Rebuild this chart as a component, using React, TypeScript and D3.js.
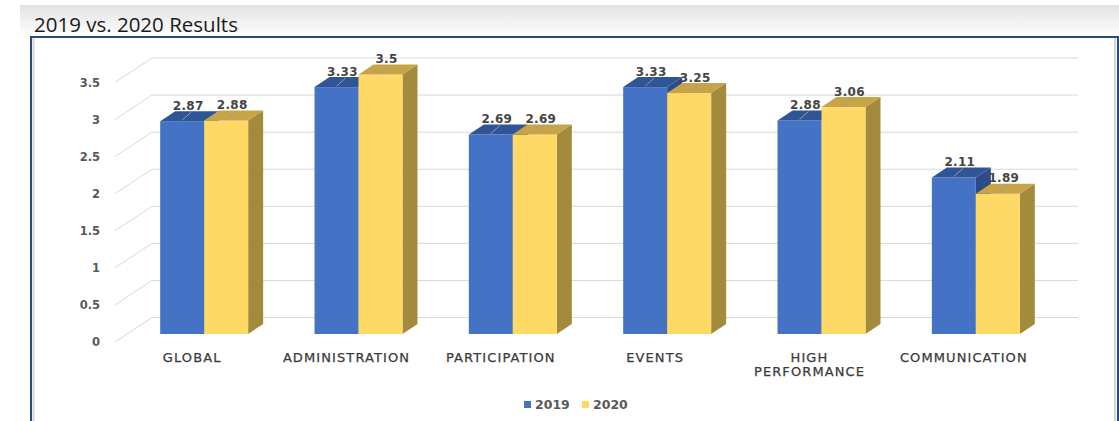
import React from "react";
import * as d3 from "d3";

const categories = ["GLOBAL", "ADMINISTRATION", "PARTICIPATION", "EVENTS", "HIGH PERFORMANCE", "COMMUNICATION"];
const series = ["2019", "2020"];
const values2019 = [2.87, 3.33, 2.69, 3.33, 2.88, 2.11];
const values2020 = [2.88, 3.5, 2.69, 3.25, 3.06, 1.89];
const yTicks = [0, 0.5, 1, 1.5, 2, 2.5, 3, 3.5];
const categoryLines: Record<string, string[]> = {
  "HIGH PERFORMANCE": ["HIGH", "PERFORMANCE"],
};

const W = 1119;
const H = 421;
const floorLeft = 115;
const floorRight = 1041;
const floorY = 342;
const wallDX = 37;
const wallDY = -24.5;
const barDX = 12;
const barDY = -8;
const depthDX = 15;
const depthDY = -10;

const colors = {
  "2019": { front: "#4472C4", top: "#2F5597", side: "#2B4C86" },
  "2020": { front: "#FFD966", top: "#C6A447", side: "#A38A3C" },
};

export default function App() {
  const y = d3.scaleLinear().domain([0, 3.5]).range([floorY, floorY - 259.5]);
  const x = d3
    .scaleBand<string>()
    .domain(categories)
    .range([floorLeft + barDX, floorRight + barDX])
    .paddingInner(0.43)
    .paddingOuter(0.215);
  const xs = d3.scaleBand<string>().domain(series).range([0, x.bandwidth()]);
  const valuesBySeries: Record<string, number[]> = { "2019": values2019, "2020": values2020 };

  const baseFront = y(0) + barDY;

  const bars: React.ReactNode[] = [];
  const labels: React.ReactNode[] = [];
  categories.forEach((c, i) => {
    series.forEach((s) => {
      const v = valuesBySeries[s][i];
      const bx = (x(c) as number) + (xs(s) as number);
      const bw = xs.bandwidth();
      const t = y(v) + barDY;
      const col = (colors as any)[s];
      const top = [
        [bx, t],
        [bx + bw, t],
        [bx + bw + depthDX, t + depthDY],
        [bx + depthDX, t + depthDY],
      ];
      const side = [
        [bx + bw, t],
        [bx + bw + depthDX, t + depthDY],
        [bx + bw + depthDX, baseFront + depthDY],
        [bx + bw, baseFront],
      ];
      const line = d3.line();
      bars.push(
        <g key={c + s}>
          <path d={line(side as any) + "Z"} fill={col.side} />
          <rect x={bx} y={t} width={bw} height={baseFront - t} fill={col.front} />
          <path d={line(top as any) + "Z"} fill={col.top} />
        </g>
      );
      const cx = bx + bw / 2;
      labels.push(
        <g key={"l" + c + s}>
          <line x1={cx} y1={t - 1} x2={cx + 9} y2={t + depthDY + 1} stroke="#9a9a9a" strokeWidth={1} />
          <text
            x={cx + 6}
            y={t + depthDY - 1.5}
            textAnchor="middle"
            fontFamily="DejaVu Sans"
            fontWeight="bold"
            fontSize={12}
            letterSpacing={0.3}
            fill="#454545"
          >
            {String(v)}
          </text>
        </g>
      );
    });
  });

  return (
    <svg
      width={W}
      height={H}
      style={{ position: "absolute", left: 0, top: 0, background: "#fff" }}
    >
      <defs>
        <linearGradient id="topband" x1="0" y1="0" x2="0" y2="1">
          <stop offset="0" stopColor="#e2e2e2" />
          <stop offset="1" stopColor="#ffffff" />
        </linearGradient>
      </defs>
      <rect x={20} y={5} width={W - 20} height={32} fill="url(#topband)" />
      <text x={34} y={32} fontFamily="Open Sans" fontSize={20.5} fill="#1a1a1a">
        2019 vs. 2020 Results
      </text>
      <rect x={31} y={37} width={1087} height={420} fill="#fff" stroke="#2c4a78" strokeWidth={2} />
      <line x1={33.5} y1={38} x2={33.5} y2={H} stroke="#d6d6d6" strokeWidth={2} />
      <line x1={1115} y1={38} x2={1115} y2={H} stroke="#d6d6d6" strokeWidth={2} />

      {yTicks.map((t) => (
        <g key={"g" + t}>
          <line x1={floorLeft} y1={y(t)} x2={floorLeft + wallDX} y2={y(t) + wallDY} stroke="#d9d9d9" strokeWidth={1} />
          <line
            x1={floorLeft + wallDX}
            y1={y(t) + wallDY}
            x2={floorRight + wallDX}
            y2={y(t) + wallDY}
            stroke="#d9d9d9"
            strokeWidth={1}
          />
          <text
            x={100}
            y={y(t) + 4}
            textAnchor="end"
            fontFamily="DejaVu Sans"
            fontWeight="bold"
            fontSize={11.5}
            fill="#595959"
          >
            {String(t)}
          </text>
        </g>
      ))}

      {bars}
      {labels}

      {categories.map((c) => {
        const cxc = (x(c) as number) + x.bandwidth() / 2 - barDX;
        const lines = categoryLines[c] || [c];
        return (
          <text
            key={"c" + c}
            x={cxc}
            y={361.5}
            textAnchor="middle"
            fontFamily="DejaVu Sans"
            fontSize={13}
            letterSpacing={1.1}
            fill="#3a3a3a"
            stroke="#3a3a3a"
            strokeWidth={0.25}
          >
            {lines.map((ln, j) => (
              <tspan key={j} x={cxc} dy={j === 0 ? 0 : 14}>
                {ln}
              </tspan>
            ))}
          </text>
        );
      })}

      {series.map((s, i) => (
        <g key={"leg" + s} transform={`translate(${524 + i * 58},0)`}>
          <rect x={0} y={401} width={7} height={7} fill={(colors as any)[s].front} />
          <text x={11} y={409} fontFamily="DejaVu Sans" fontWeight="bold" fontSize={12.5} fill="#595959">
            {s}
          </text>
        </g>
      ))}
    </svg>
  );
}
